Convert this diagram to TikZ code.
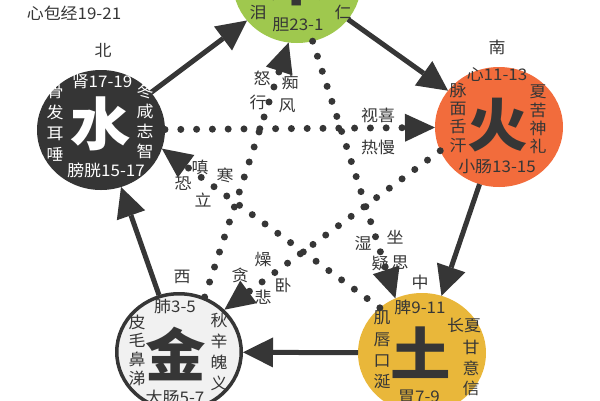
\documentclass[tikz,border=0pt]{standalone}
\usepackage{fontspec}
\setmainfont{Noto Sans CJK SC}[FakeStretch=1.06]
\usetikzlibrary{arrows.meta,shapes.geometric}
\definecolor{ink}{HTML}{363636}
\definecolor{woodc}{HTML}{9FC84E}
\definecolor{firec}{HTML}{F26C3C}
\definecolor{earthc}{HTML}{E9B73A}
\definecolor{waterc}{HTML}{353535}
\definecolor{metalc}{HTML}{F1F1F1}
\tikzset{
  elem/.style={ellipse, minimum width=128pt, minimum height=120pt, inner sep=0pt, outer sep=0pt},
  txt/.style={inner sep=0pt, text=ink, font=\fontsize{16pt}{16pt}\selectfont},
  stk/.style={txt, align=center, font=\fontsize{16pt}{#1pt}\selectfont},
  big/.style={inner sep=0pt, font=\fontsize{57pt}{57pt}\selectfont\bfseries},
  solidarr/.style={draw=ink, line width=5pt, -{Triangle[length=30pt,width=30pt,line width=0pt]}},
  dotarr/.style={draw=ink, line width=7pt, line cap=round, dash pattern=on 0pt off 15.8pt, -{Triangle[length=30pt,width=28pt,line width=0pt]}},
}
\begin{document}
\begin{tikzpicture}[x=1pt,y=-1pt]
\useasboundingbox (0,0) rectangle (600,400);
\clip (0,0) rectangle (600,400);
% elements
\node[elem, fill=woodc] (wood) at (297,-17) {};
\node[elem, fill=firec] (fire) at (499,127) {};
\node[elem, fill=earthc] (earth) at (422,353) {};
\node[elem, fill=metalc, draw=ink, line width=3.5pt, minimum width=124.5pt, minimum height=116.5pt, outer sep=1.75pt] (metal) at (179,352) {};
\node[elem, fill=waterc] (water) at (101,130) {};
% generating cycle
\draw[solidarr] (water) -- (wood);
\draw[solidarr] (wood) -- (fire);
\draw[solidarr] (fire) -- (earth);
\draw[solidarr] (earth) -- (metal);
\draw[solidarr] (metal) -- (water);
% controlling cycle
\draw[dotarr] (water) -- (fire);
\draw[dotarr] (fire.202) -- (metal.43);
\draw[dotarr] (metal.65) -- (wood.262);
\draw[dotarr] (wood.285) -- (earth.116);
\draw[dotarr] (earth.133) -- (water.343);
% header and directions
\node[txt] (hdr) at (74,13) {心包经19-21};
\node[txt] (bei) at (103,50) {北};
\node[txt] (nan) at (497,47) {南};
\node[txt] (xi) at (182,277) {西};
\node[txt] (zhong) at (420,282) {中};
% wood
\node[big, text=ink] (mu) at (297,-21) {木};
\node[txt] (lei) at (258,12) {泪};
\node[txt] (ren) at (343,12) {仁};
\node[txt] (dan) at (298,25) {胆23-1};
% fire
\node[big, text=ink] (huo) at (498,125) {火};
\node[txt] (xin) at (497,75) {心11-13};
\node[txt] (xch) at (497,167) {小肠13-15};
\node[stk=18.3] (fl) at (458,117.5) {脉\\面\\舌\\汗};
\node[stk=18.3] (fr) at (538,119.5) {夏\\苦\\神\\礼};
% water
\node[big, text=white] (shui) at (101,124) {水};
\node[txt, text=white] (shen) at (102,82) {肾17-19};
\node[txt, text=white] (pg) at (106,170) {膀胱15-17};
\node[stk=21, text=white] (wl) at (55,123.5) {骨\\发\\耳\\唾};
\node[stk=20, text=white] (wr) at (145,121.7) {冬\\咸\\志\\智};
% metal
\node[big, text=ink] (jin) at (176,354) {金};
\node[txt] (fei) at (175,307) {肺3-5};
\node[txt] (dch) at (175,397) {大肠5-7};
\node[stk=18.7] (ml) at (137,350) {皮\\毛\\鼻\\涕};
\node[stk=21] (mr) at (219,352) {秋\\辛\\魄\\义};
% earth
\node[big, text=ink] (tu) at (421,353) {土};
\node[txt] (pi) at (420,307) {脾9-11};
\node[txt] (wei) at (419,397) {胃7-9};
\node[stk=21.3] (el) at (382,350) {肌\\唇\\口\\涎};
\node[txt] (cx) at (464,325) {长夏};
\node[stk=20.5] (er) at (471,368) {甘\\意\\信};
% inner labels
\node[txt] (nu) at (262,78) {怒};
\node[txt] (chi) at (290,82) {痴};
\node[txt] (xing) at (258,102) {行};
\node[txt] (feng) at (287,106) {风};
\node[txt] (sx) at (378,115) {视喜};
\node[txt] (rm) at (378,147) {热慢};
\node[txt] (chen) at (200,167) {嗔};
\node[txt] (kong) at (183,184) {恐};
\node[txt] (li) at (203,200) {立};
\node[txt] (han) at (225,175) {寒};
\node[txt] (shi) at (363,243) {湿};
\node[txt] (zuo) at (395,237) {坐};
\node[txt] (yi) at (380,263) {疑};
\node[txt] (si) at (400,263) {思};
\node[txt] (zao) at (263,260) {燥};
\node[txt] (tan) at (240,275) {贪};
\node[txt] (wo) at (283,285) {卧};
\node[txt] (bei2) at (263,297) {悲};
\end{tikzpicture}
\end{document}
